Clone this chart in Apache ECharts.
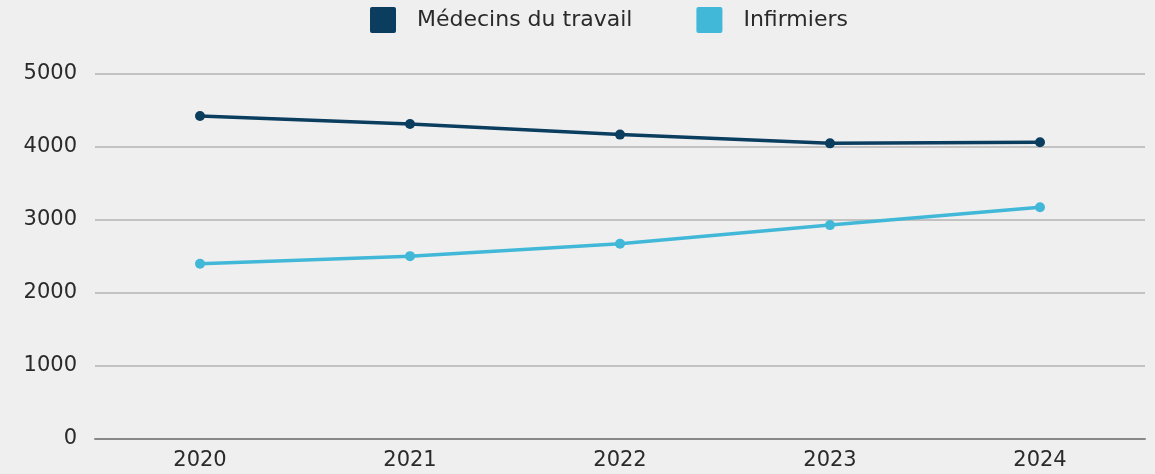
<!DOCTYPE html>
<html>
<head>
<meta charset="utf-8">
<script src="https://cdn.jsdelivr.net/npm/echarts@6/dist/echarts.min.js"></script>
<style>
  html, body { margin: 0; padding: 0; background: #efefef; }
  #main { width: 1155px; height: 474px; }
</style>
</head>
<body>
<div id="main"></div>
<script>
// Chart data
const years = ["2020", "2021", "2022", "2023", "2024"];
const medecins = [4425, 4315, 4170, 4050, 4065];
const infirmiers = [2400, 2505, 2675, 2930, 3175];
const yTicks = [0, 1000, 2000, 3000, 4000, 5000];

const chart = echarts.init(document.getElementById("main"));
const font = "DejaVu Sans";

const options = {
    backgroundColor: "#efefef",
    textStyle: { fontFamily: font },
    legend: {
        top: 2,
        left: 365, // legend sits centred over the plot area, not the page
        itemWidth: 26,
        itemHeight: 26,
        itemGap: 64,
        icon: "path://M2,0 L24,0 Q26,0 26,2 L26,24 Q26,26 24,26 L2,26 Q0,26 0,24 L0,2 Q0,0 2,0 Z",
        textStyle: { fontSize: 22, color: "#2a2a2a", padding: [0, 0, 0, 16], fontFamily: font },
        data: ["Médecins du travail", "Infirmiers"]
    },
    grid: { left: 95, right: 10, top: 74, bottom: 35 },
    xAxis: {
        type: "category",
        data: years,
        boundaryGap: true,
        axisLine: { lineStyle: { color: "#888", width: 2 } },
        axisTick: { show: false },
        axisLabel: { fontSize: 21, color: "#2a2a2a", margin: 11 }
    },
    yAxis: {
        type: "value",
        min: yTicks[0],
        max: yTicks[yTicks.length - 1],
        interval: 1000,
        axisLine: { show: false },
        axisTick: { show: false },
        axisLabel: { fontSize: 21, color: "#2a2a2a", margin: 18, formatter: (v) => String(v) },
        splitLine: { lineStyle: { color: "#c2c2c2", width: 2 } }
    },
    series: [
        {
            name: "Médecins du travail",
            type: "line",
            data: medecins,
            color: "#0b3d5f",
            symbol: "circle",
            symbolSize: 10,
            lineStyle: { width: 3.5 }
        },
        {
            name: "Infirmiers",
            type: "line",
            data: infirmiers,
            color: "#42b8d8",
            symbol: "circle",
            symbolSize: 10,
            lineStyle: { width: 3.5 }
        }
    ]
};

chart.setOption(options);
</script>
</body>
</html>
